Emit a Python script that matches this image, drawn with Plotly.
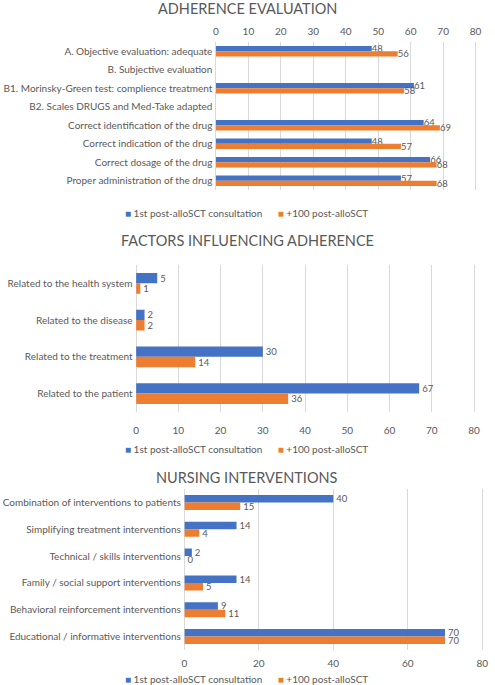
import plotly.graph_objects as go

# ---------- data ----------
adh_categories = [
    "A. Objective evaluation: adequate",
    "B. Subjective evaluation",
    "B1. Morinsky-Green test: complience treatment",
    "B2. Scales DRUGS and Med-Take adapted",
    "Correct identification of the drug",
    "Correct indication of the drug",
    "Correct dosage of the drug",
    "Proper administration of the drug",
]
adh_first = [48, None, 61, None, 64, 48, 66, 57]
adh_100 = [56, None, 58, None, 69, 57, 68, 68]

fac_categories = [
    "Related to the health system",
    "Related to the disease",
    "Related to the treatment",
    "Related to the patient",
]
fac_first = [5, 2, 30, 67]
fac_100 = [1, 2, 14, 36]

nur_categories = [
    "Combination of interventions to patients",
    "Simplifying treatment interventions",
    "Technical / skills interventions",
    "Family / social support interventions",
    "Behavioral reinforcement interventions",
    "Educational / informative interventions",
]
nur_first = [40, 14, 2, 14, 9, 70]
nur_100 = [15, 4, 0, 5, 11, 70]

series_names = ["1st post-alloSCT consultation", "+100 post-alloSCT"]
titles = ["ADHERENCE EVALUATION", "FACTORS INFLUENCING ADHERENCE", "NURSING INTERVENTIONS"]

# ---------- style ----------
W, H = 495, 685
BLUE = "#4472C4"
ORANGE = "#ED7D31"
GRAY = "#595959"
GRID = "#D9D9D9"
FONT = "Lato"


def px_y(p):
    return 1 - p / H


fig = go.Figure()

panels = [
    # categories, first, second, x domain px, y domain px (top,bottom), tick step, side,
    # tick standoff, legend y px, title y px
    (adh_categories, adh_first, adh_100, (216, 481), (42, 190), 10, "top", 4, 213, 8),
    (fac_categories, fac_first, fac_100, (135, 480), (265, 412), 10, "bottom", 11, 449, 240),
    (nur_categories, nur_first, nur_100, (184, 488), (489, 650), 20, "bottom", 6, 679, 477),
]

for i, (cats, s1, s2, xd, yd, dt, side, so, ly, ty) in enumerate(panels):
    n = i + 1
    xa = "x" if n == 1 else f"x{n}"
    ya = "y" if n == 1 else f"y{n}"
    for name, vals, col in [(series_names[0], s1, BLUE), (series_names[1], s2, ORANGE)]:
        fig.add_trace(go.Bar(
            y=cats, x=vals, name=name, orientation="h",
            marker=dict(color=col, line=dict(width=0)),
            text=[("" if v is None else str(v)) for v in vals],
            textposition="outside", cliponaxis=False, constraintext="none",
            textfont=dict(family=FONT, size=9.5, color=GRAY),
            xaxis=xa, yaxis=ya, showlegend=False,
        ))
    xkey = "xaxis" if n == 1 else f"xaxis{n}"
    ykey = "yaxis" if n == 1 else f"yaxis{n}"
    fig.update_layout(**{
        xkey: dict(
            domain=[xd[0] / W, xd[1] / W], anchor=ya, range=[0, 80.5],
            tick0=0, dtick=dt, side=side, showgrid=True, gridcolor=GRID, gridwidth=1,
            zeroline=True, zerolinecolor=GRID, zerolinewidth=1, showline=False,
            tickfont=dict(family=FONT, size=10, color=GRAY), ticks="",
            ticklabelstandoff=so,
            fixedrange=True,
        ),
        ykey: dict(
            domain=[px_y(yd[1]), px_y(yd[0])], anchor=xa, autorange="reversed",
            type="category", categoryorder="array", categoryarray=cats,
            showgrid=False, zeroline=False, showline=False, ticks="",
            tickfont=dict(family=FONT, size=10, color=GRAY), ticksuffix=" ",
            fixedrange=True,
        ),
    })
    fig.add_annotation(
        text=titles[i], x=0.5, y=px_y(ty), xref="paper", yref="paper",
        xanchor="center", yanchor="middle", showarrow=False,
        font=dict(family=FONT, size=14.5, color=GRAY),
    )
    # legend row (series key)
    fig.add_annotation(
        text=(f"<span style='color:{BLUE}'>■</span> {series_names[0]}"
              f"      <span style='color:{ORANGE}'>■</span> {series_names[1]}"),
        x=247 / W, y=px_y(ly), xref="paper", yref="paper",
        xanchor="center", yanchor="middle", showarrow=False,
        font=dict(family=FONT, size=10, color=GRAY),
    )

fig.update_layout(
    width=W, height=H, margin=dict(l=0, r=0, t=0, b=0),
    paper_bgcolor="white", plot_bgcolor="white",
    barmode="group", bargap=0.44, bargroupgap=0,
    showlegend=False,
)

fig.write_html("out.html", config={"displayModeBar": False},
               post_script="document.body.style.margin='0';")
